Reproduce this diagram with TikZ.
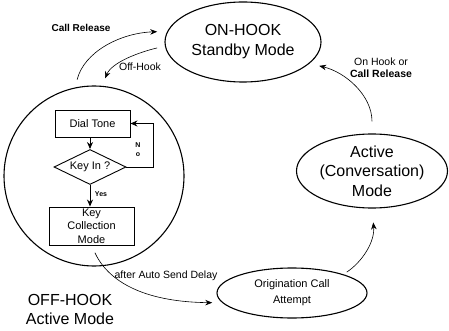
\documentclass[tikz,border=0pt]{standalone}
\usepackage{fontspec}
\setmainfont{Liberation Sans}
\usetikzlibrary{shapes.geometric,arrows.meta}
\begin{document}
\begin{tikzpicture}[x=1pt,y=-1pt,
  big/.style={font=\fontsize{16}{20}\selectfont},
  small/.style={font=\fontsize{10.5}{12}\selectfont},
  smallb/.style={font=\bfseries\fontsize{10}{12}\selectfont},
  tiny/.style={font=\bfseries\fontsize{7}{8}\selectfont},
  state/.style={draw, line width=1.1pt, ellipse, inner sep=0pt, align=center},
  box/.style={draw, line width=0.9pt, rectangle, inner sep=0pt, align=center, font=\fontsize{11}{13.5}\selectfont},
  arr/.style={-{Stealth[length=7pt,width=5.5pt]}, line width=0.6pt},
  farr/.style={-{Stealth[length=7pt,width=6pt]}, line width=0.9pt},
]
\useasboundingbox (0,0) rectangle (449,331);
% states
\node[state,big,minimum width=156pt,minimum height=80pt] (on) at (243,42) {ON-HOOK\\Standby Mode};
\node[draw, circle, line width=1.1pt, minimum size=180pt, inner sep=0pt] (off) at (94,176) {};
\node[big, align=center, font=\fontsize{16}{19}\selectfont] (offl) at (70,309.5) {OFF-HOOK\\Active Mode};
\node[state,minimum width=151pt,minimum height=74pt,font=\fontsize{16}{19.5}\selectfont] (act) at (372,171) {Active\\(Conversation)\\Mode};
\node[state,minimum width=150pt,minimum height=50pt,font=\fontsize{11}{16}\selectfont] (orig) at (292,293) {Origination Call\\Attempt};
% flowchart inside
\node[box, minimum width=75pt, minimum height=27pt] (dial) at (92.5,123.5) {Dial Tone};
\node[draw, diamond, aspect=2, inner sep=0pt, minimum width=72pt, minimum height=35pt, line width=0.9pt, font=\fontsize{11}{13}\selectfont] (key) at (90,167) {Key In ?};
\node[box, minimum width=85pt, minimum height=38pt] (kc) at (91.5,226) {Key\\Collection\\Mode};
\draw[farr] (dial.south -| key.north) -- (key.north);
\draw[farr] (key.south) -- (kc.north -| key.south);
\draw[farr] (key.east) -- ++(27,0) |- (dial.east);
\node[tiny] (n1) at (138,145) {N};
\node[tiny] (o1) at (138,155) {o};
\node[tiny] (yes) at (101,194) {Yes};
% transitions
\draw[arr, shorten <=8pt, shorten >=10pt] (off.102) .. controls (84,52) and (120,33) .. (on.172);
\draw[arr, shorten <=8pt, shorten >=8pt] (on.183) .. controls (140,52) and (112,62) .. (off.85);
\draw[arr, shorten <=12pt, shorten >=10pt] (act.north) .. controls (372,95) and (345,72) .. (on.-18);
\draw[arr, shorten <=4pt, shorten >=14pt] (orig.20) .. controls (362,262) and (375,242) .. (act.south);
\draw[arr, shorten <=8pt, shorten >=10pt] (kc.south) .. controls (110,285) and (150,302) .. (orig.188);
% labels
\node[smallb] (lcr) at (81,28) {Call Release};
\node[small] (loff) at (140,67) {Off-Hook};
\node[small, align=center] (lon) at (381,68) {On Hook or\\\textbf{Call Release}};
\node[small] (lauto) at (166,276) {after Auto Send Delay};
\end{tikzpicture}
\end{document}
